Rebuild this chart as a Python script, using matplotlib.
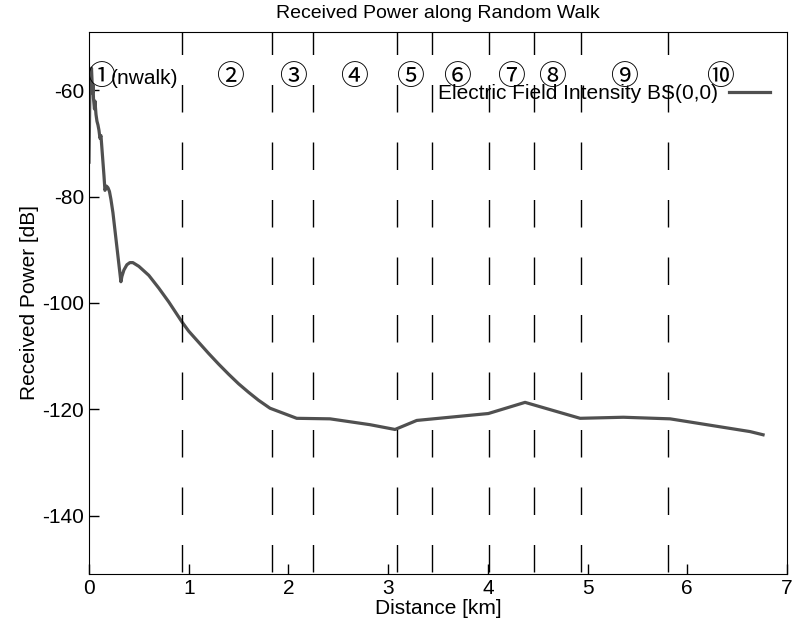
import numpy as np
import matplotlib
matplotlib.use("Agg")
import matplotlib.pyplot as plt

plt.rcParams['font.family'] = ['Liberation Sans', 'Noto Sans CJK JP', 'DejaVu Sans']
plt.rcParams['axes.unicode_minus'] = False

# received power along the walk
dist_km = [0.000, 0.005, 0.010, 0.015, 0.020, 0.025, 0.030, 0.035, 0.040, 0.045,
           0.055, 0.060, 0.070, 0.080, 0.090, 0.100, 0.110, 0.120, 0.130, 0.140,
           0.150, 0.160, 0.175, 0.190, 0.205, 0.220, 0.240, 0.280, 0.320, 0.330,
           0.350, 0.380, 0.410, 0.440, 0.500, 0.600, 0.700, 0.800, 0.930, 1.000,
           1.100, 1.200, 1.300, 1.400, 1.500, 1.600, 1.700, 1.815, 2.083, 2.417,
           2.818, 3.069, 3.287, 4.005, 4.373, 4.925, 5.359, 5.827, 5.995, 6.630,
           6.760]
power_db = [-73.5, -66.0, -58.5, -56.5, -57.5, -55.8, -58.0, -60.5, -59.0, -61.5,
            -63.5, -62.0, -64.5, -65.8, -66.5, -67.5, -69.0, -68.5, -71.0, -73.5,
            -76.0, -78.8, -78.0, -78.3, -79.0, -80.5, -83.0, -89.5, -96.0, -95.0,
            -93.8, -92.8, -92.4, -92.4, -93.1, -94.8, -97.2, -99.8, -103.5, -105.3,
            -107.4, -109.5, -111.5, -113.4, -115.2, -116.8, -118.3, -119.8, -121.7, -121.8,
            -122.9, -123.8, -122.1, -120.8, -118.7, -121.7, -121.5, -121.8, -122.3, -124.2,
            -124.8]

# walk segment boundaries [km]
boundaries = [0.93, 1.835, 2.25, 3.09, 3.44, 4.01, 4.46, 4.93, 5.81]

# segment labels
seg_labels = ['①', '②', '③', '④', '⑤', '⑥', '⑦', '⑧', '⑨', '⑩']
seg_label_x = [0.12, 1.414, 2.046, 2.658, 3.22, 3.69, 4.23, 4.64, 5.36, 6.33]
label_y = -57.7

fig = plt.figure(figsize=(7.97, 6.31), dpi=100)
ax = fig.add_axes([89 / 797, 1 - 574 / 631, 698 / 797, 542 / 631])

ax.plot(dist_km, power_db, color='#505050', lw=2.3,
        label='Electric Field Intensity BS(0,0)')
ax.vlines(boundaries, -48.15, -151, colors='black', lw=1.0,
          linestyles=[(0, (19.8, 21.6))])

for x, s in zip(seg_label_x, seg_labels):
    ax.text(x, label_y, s, fontsize=20, ha='center', va='center')
ax.text(0.215, label_y, '(nwalk)', fontsize=15, ha='left', va='center')

ax.set_xlim(0, 7)
ax.set_ylim(-151, -49)
ax.set_xticks(range(0, 8))
ax.set_yticks([-140, -120, -100, -80, -60])
ax.tick_params(direction='in', labelsize=15, length=7, width=1)
ax.set_xlabel('Distance [km]', fontsize=15, labelpad=1)
ax.set_ylabel('Received Power [dB]', fontsize=15, labelpad=2)
ax.set_title('Received Power along Random Walk', fontsize=14, pad=10)

ax.legend(loc='upper right', bbox_to_anchor=(0.976, 0.904), frameon=False,
          markerfirst=False, fontsize=15, handlelength=2.0, handletextpad=0.5,
          borderaxespad=0, borderpad=0)

fig.savefig('out.png', dpi=100)
